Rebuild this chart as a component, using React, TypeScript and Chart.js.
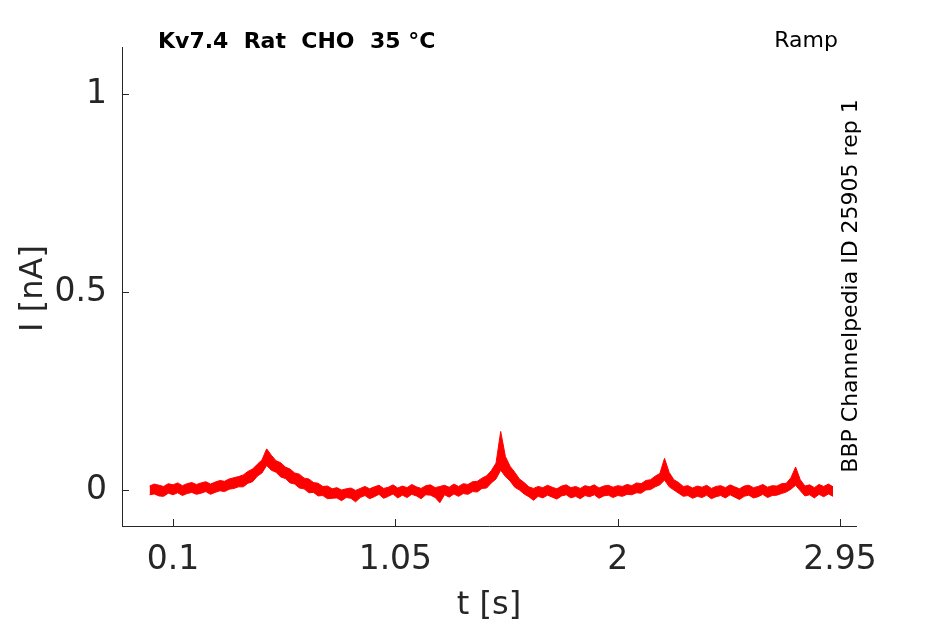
import React, { useEffect, useRef } from "react";
import { Chart, registerables } from "chart.js";

Chart.register(...registerables);

const TIME_STEP = 0.02; // s, sampling grid of the trace
// upper and lower edge of the noisy current band
const CURRENT_UPPER_NA: number[] = [
  0.010, 0.015, 0.012, 0.009, 0.016, 0.013, 0.018, 0.011, 0.016, 0.019,
  0.014, 0.018, 0.021, 0.015, 0.020, 0.024, 0.022, 0.028, 0.031, 0.034,
  0.038, 0.047, 0.053, 0.065, 0.076, 0.104, 0.088, 0.074, 0.069, 0.058,
  0.053, 0.043, 0.040, 0.030, 0.028, 0.019, 0.017, 0.009, 0.010, 0.003,
  0.006, 0.000, 0.003, 0.005, -0.001, 0.004, 0.009, 0.003, 0.008, 0.012,
  0.004, 0.007, 0.013, 0.005, 0.010, 0.006, 0.014, 0.008, 0.004, 0.011,
  0.013, 0.006, 0.009, 0.012, 0.007, 0.015, 0.009, 0.016, 0.014, 0.021,
  0.022, 0.030, 0.036, 0.049, 0.068, 0.148, 0.085, 0.060, 0.045, 0.028,
  0.019, 0.008, 0.004, 0.009, 0.006, 0.012, 0.007, 0.003, 0.010, 0.013,
  0.006, 0.009, 0.004, 0.011, 0.008, 0.013, 0.005, 0.010, 0.012, 0.007,
  0.011, 0.009, 0.014, 0.011, 0.018, 0.016, 0.024, 0.026, 0.035, 0.042,
  0.080, 0.044, 0.026, 0.019, 0.009, 0.011, 0.005, 0.010, 0.007, 0.012,
  0.004, 0.009, 0.011, 0.006, 0.013, 0.008, 0.003, 0.010, 0.012, 0.006,
  0.009, 0.014, 0.007, 0.011, 0.010, 0.016, 0.017, 0.031, 0.058, 0.026,
  0.010, 0.013, 0.006, 0.014, 0.009, 0.015, 0.008,
];
const CURRENT_LOWER_NA: number[] = [
  -0.012, -0.010, -0.015, -0.016, -0.008, -0.012, -0.007, -0.014, -0.009, -0.006,
  -0.011, -0.008, -0.004, -0.011, -0.006, -0.002, -0.004, 0.002, 0.004, 0.008,
  0.008, 0.017, 0.021, 0.035, 0.043, 0.062, 0.050, 0.045, 0.033, 0.029,
  0.018, 0.015, 0.005, 0.003, -0.007, -0.006, -0.015, -0.014, -0.022, -0.021,
  -0.020, -0.027, -0.019, -0.021, -0.030, -0.019, -0.014, -0.022, -0.017, -0.011,
  -0.021, -0.016, -0.010, -0.020, -0.013, -0.019, -0.011, -0.015, -0.022, -0.012,
  -0.013, -0.019, -0.032, -0.012, -0.018, -0.010, -0.016, -0.009, -0.011, -0.004,
  -0.005, 0.004, 0.005, 0.018, 0.028, 0.050, 0.034, 0.023, 0.007, 0.000,
  -0.010, -0.017, -0.026, -0.016, -0.020, -0.013, -0.018, -0.023, -0.015, -0.012,
  -0.020, -0.016, -0.022, -0.014, -0.017, -0.012, -0.021, -0.015, -0.013, -0.019,
  -0.014, -0.016, -0.011, -0.012, -0.007, -0.008, 0.000, 0.001, 0.008, 0.013,
  0.025, 0.008, 0.000, -0.008, -0.016, -0.014, -0.021, -0.016, -0.019, -0.013,
  -0.022, -0.017, -0.014, -0.020, -0.012, -0.018, -0.024, -0.016, -0.013, -0.020,
  -0.017, -0.011, -0.019, -0.014, -0.013, -0.009, -0.005, 0.002, 0.012, -0.002,
  -0.015, -0.012, -0.020, -0.011, -0.017, -0.010, -0.016,
];

const X_TICKS: number[] = [0.1, 1.05, 2, 2.95];
const X_TICK_LABELS: string[] = ["0.1", "1.05", "2", "2.95"];
const Y_TICKS: number[] = [0, 0.5, 1];
const Y_TICK_LABELS: string[] = ["0", "0.5", "1"];

const TITLE = "Kv7.4  Rat  CHO  35 \u00B0C";
const PROTOCOL = "Ramp";
const SIDE_LABEL = "BBP Channelpedia ID 25905 rep 1";
const X_LABEL = "t [s]";
const Y_LABEL = "I [nA]";

const FONT = "'DejaVu Sans', sans-serif";
const AXIS_COLOR = "#262626";
const TRACE_COLOR = "#ff0000";

export default function App() {
  const ref = useRef<HTMLCanvasElement | null>(null);

  useEffect(() => {
    if (!ref.current) return;
    const upper = CURRENT_UPPER_NA.map((v, i) => ({ x: i * TIME_STEP, y: v }));
    const lower = CURRENT_LOWER_NA.map((v, i) => ({ x: i * TIME_STEP, y: v }));

    const decor = {
      id: "decor",
      afterDraw(chart: any) {
        const ctx = chart.ctx;
        const xs = chart.scales.x;
        const ys = chart.scales.y;
        const area = chart.chartArea;
        ctx.save();
        ctx.strokeStyle = AXIS_COLOR;
        ctx.lineWidth = 1;
        X_TICKS.forEach((t) => {
          const px = Math.round(xs.getPixelForValue(t)) + 0.5;
          ctx.beginPath();
          ctx.moveTo(px, area.bottom);
          ctx.lineTo(px, area.bottom - 7);
          ctx.stroke();
        });
        Y_TICKS.forEach((t) => {
          const py = Math.round(ys.getPixelForValue(t)) + 0.5;
          ctx.beginPath();
          ctx.moveTo(area.left, py);
          ctx.lineTo(area.left + 7, py);
          ctx.stroke();
        });
        ctx.fillStyle = "#000";
        ctx.textBaseline = "alphabetic";
        ctx.textAlign = "left";
        ctx.font = `bold 22px ${FONT}`;
        ctx.fillText(TITLE, 158, 48);
        ctx.textAlign = "center";
        ctx.font = `22px ${FONT}`;
        ctx.fillText(PROTOCOL, 806, 47);
        ctx.save();
        ctx.translate(857, 286);
        ctx.rotate(-Math.PI / 2);
        ctx.textAlign = "center";
        ctx.fillText(SIDE_LABEL, 0, 0);
        ctx.restore();
        ctx.fillStyle = AXIS_COLOR;
        ctx.font = `32px ${FONT}`;
        ctx.textAlign = "center";
        ctx.fillText(X_LABEL, (area.left + area.right) / 2, 614);
        ctx.save();
        ctx.translate(42, (area.top + area.bottom) / 2 + 2);
        ctx.rotate(-Math.PI / 2);
        ctx.fillText(Y_LABEL, 0, 0);
        ctx.restore();
        ctx.restore();
      },
    };

    const chart = new Chart(ref.current, {
      type: "line",
      data: {
        datasets: [
          {
            data: upper,
            borderColor: TRACE_COLOR,
            backgroundColor: TRACE_COLOR,
            borderWidth: 1,
            pointRadius: 0,
            tension: 0,
            fill: "+1",
          },
          {
            data: lower,
            borderColor: TRACE_COLOR,
            backgroundColor: TRACE_COLOR,
            borderWidth: 1,
            pointRadius: 0,
            tension: 0,
            fill: false,
          },
        ],
      },
      options: {
        animation: false,
        responsive: true,
        maintainAspectRatio: false,
        events: [],
        layout: { padding: { left: 0, top: 47, right: 89, bottom: 0 } },
        plugins: {
          legend: { display: false },
          tooltip: { enabled: false },
          title: { display: false },
        },
        scales: {
          x: {
            type: "linear",
            min: -0.118,
            max: 3.018,
            afterBuildTicks: (scale: any) => {
              scale.ticks = X_TICKS.map((v) => ({ value: v }));
            },
            afterFit: (scale: any) => {
              scale.height = 98;
            },
            grid: { display: false, drawTicks: false },
            border: { display: true, color: AXIS_COLOR, width: 1 },
            ticks: {
              autoSkip: false,
              maxRotation: 0,
              padding: 15,
              color: AXIS_COLOR,
              font: { family: FONT, size: 33 },
              callback: (v: any) => {
                const i = X_TICKS.findIndex((t) => Math.abs(t - Number(v)) < 1e-9);
                return i >= 0 ? X_TICK_LABELS[i] : "";
              },
            },
          },
          y: {
            type: "linear",
            min: -0.091,
            max: 1.12,
            afterBuildTicks: (scale: any) => {
              scale.ticks = Y_TICKS.map((v) => ({ value: v }));
            },
            afterFit: (scale: any) => {
              scale.width = 122;
            },
            grid: { display: false, drawTicks: false },
            border: { display: true, color: AXIS_COLOR, width: 1 },
            ticks: {
              autoSkip: false,
              padding: 15,
              color: AXIS_COLOR,
              font: { family: FONT, size: 33 },
              callback: (v: any) => {
                const i = Y_TICKS.findIndex((t) => Math.abs(t - Number(v)) < 1e-9);
                return i >= 0 ? Y_TICK_LABELS[i] : "";
              },
            },
          },
        },
      },
      plugins: [decor],
    });

    return () => chart.destroy();
  }, []);

  return (
    <div style={{ position: "absolute", left: 0, top: 0, width: 945, height: 624, background: "#fff" }}>
      <canvas ref={ref} />
    </div>
  );
}
